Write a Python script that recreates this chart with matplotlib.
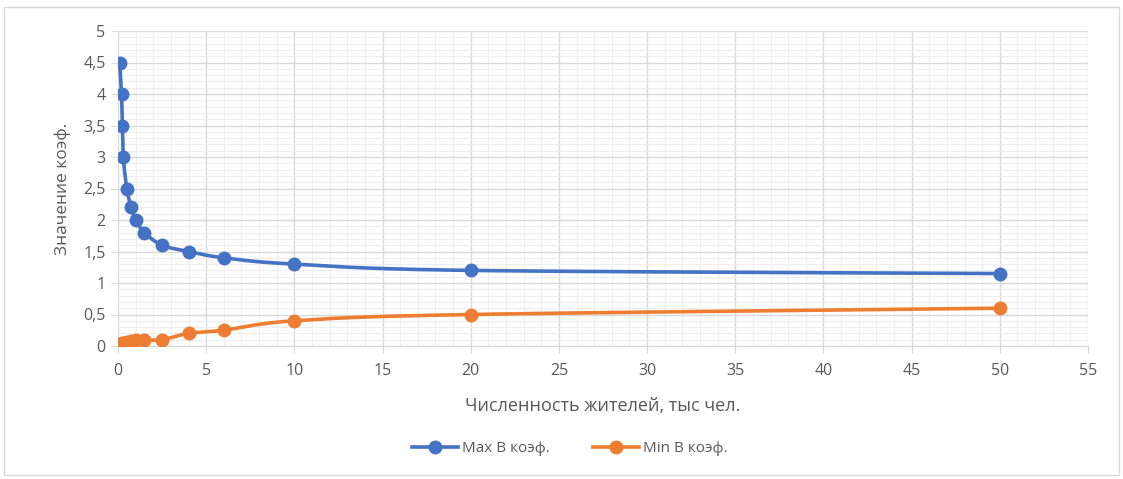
import numpy as np
import matplotlib
matplotlib.use("Agg")
import matplotlib.pyplot as plt
from matplotlib.patches import Rectangle

plt.rcParams['font.family'] = ['Open Sans', 'DejaVu Sans']

# Population, thousand people
population = [0.1, 0.2, 0.25, 0.3, 0.5, 0.75, 1, 1.5, 2.5, 4, 6, 10, 20, 50]
# Coefficient values
max_coef = [4.5, 4.0, 3.5, 3.0, 2.5, 2.2, 2.0, 1.8, 1.6, 1.5, 1.4, 1.3, 1.2, 1.15]
min_coef = [0.0, 0.03, 0.04, 0.05, 0.07, 0.08, 0.1, 0.1, 0.1, 0.2, 0.25, 0.4, 0.5, 0.6]

x_ticks = list(range(0, 56, 5))
y_ticks = [0, 0.5, 1, 1.5, 2, 2.5, 3, 3.5, 4, 4.5, 5]
y_ticklabels = ["0", "0,5", "1", "1,5", "2", "2,5", "3", "3,5", "4", "4,5", "5"]

BLUE = "#4472C4"
ORANGE = "#ED7D31"
TEXT = "#595959"


def smooth(xs, ys, n=40):
    """Cubic Bezier smoothing through every point (Catmull-Rom style)."""
    xs = np.asarray(xs, float)
    ys = np.asarray(ys, float)
    px, py = [], []
    t = np.linspace(0, 1, n)
    for i in range(len(xs) - 1):
        x0, y0 = xs[max(i - 1, 0)], ys[max(i - 1, 0)]
        x1, y1 = xs[i], ys[i]
        x2, y2 = xs[i + 1], ys[i + 1]
        x3, y3 = xs[min(i + 2, len(xs) - 1)], ys[min(i + 2, len(xs) - 1)]
        c1x, c1y = x1 + (x2 - x0) / 6, y1 + (y2 - y0) / 6
        c2x, c2y = x2 - (x3 - x1) / 6, y2 - (y3 - y1) / 6
        bx = (1 - t) ** 3 * x1 + 3 * (1 - t) ** 2 * t * c1x + 3 * (1 - t) * t ** 2 * c2x + t ** 3 * x2
        by = (1 - t) ** 3 * y1 + 3 * (1 - t) ** 2 * t * c1y + 3 * (1 - t) * t ** 2 * c2y + t ** 3 * y2
        px.extend(bx)
        py.extend(by)
    return np.array(px), np.array(py)


fig = plt.figure(figsize=(11.23, 4.79), dpi=100)
ax = fig.add_axes([118 / 1123, 1 - 346 / 479, (1088 - 118) / 1123, (346 - 31) / 479])

# chart frame
fig.patches.append(Rectangle((4 / 1123, 4 / 479), 1115 / 1123, 468 / 479,
                             transform=fig.transFigure, fill=False,
                             edgecolor="#D9D9D9", linewidth=1.0))

ax.set_xlim(0, 55)
ax.set_ylim(0, 5)
ax.set_xticks(x_ticks)
ax.set_xticks(np.arange(0, 56, 1), minor=True)
ax.set_yticks(y_ticks)
ax.set_yticklabels(y_ticklabels)
ax.set_yticks(np.arange(0, 5.01, 0.1), minor=True)

ax.grid(which="minor", color="#EEEEEE", linewidth=0.8)
ax.grid(which="major", color="#D9D9D9", linewidth=1.0)
ax.set_axisbelow(True)

for s in ["top", "right", "left"]:
    ax.spines[s].set_visible(False)
ax.spines["bottom"].set_color("#D9D9D9")
ax.tick_params(axis="x", which="major", length=5, color="#D9D9D9", colors=TEXT,
               labelsize=11.5, pad=7)
ax.tick_params(axis="y", which="major", length=5, color="#D9D9D9", colors=TEXT,
               labelsize=11.5, pad=4)
ax.tick_params(which="minor", length=0)
for lbl in ax.get_xticklabels() + ax.get_yticklabels():
    lbl.set_color(TEXT)

for ys, col, name in [(max_coef, BLUE, "Max В коэф."), (min_coef, ORANGE, "Min В коэф.")]:
    sx, sy = smooth(population, ys)
    ax.plot(sx, sy, color=col, linewidth=2.6, solid_capstyle="round", zorder=3)
    ax.plot(population, ys, linestyle="none", marker="o", markersize=9,
            color=col, zorder=4)
    ax.plot([], [], color=col, linewidth=2.6, marker="o", markersize=9, label=name)

ax.set_xlabel("Численность жителей, тыс чел.", fontsize=13, color=TEXT, labelpad=13)
ax.set_ylabel("Значение коэф.", fontsize=12.5, color=TEXT, labelpad=9)

leg = fig.legend(loc="center", bbox_to_anchor=(570 / 1123, 1 - 449 / 479), ncol=2,
                 frameon=False, fontsize=11, handlelength=3, columnspacing=2.8,
                 handletextpad=0.3)
for t in leg.get_texts():
    t.set_color(TEXT)

fig.savefig("out.png", dpi=100, facecolor="white")
